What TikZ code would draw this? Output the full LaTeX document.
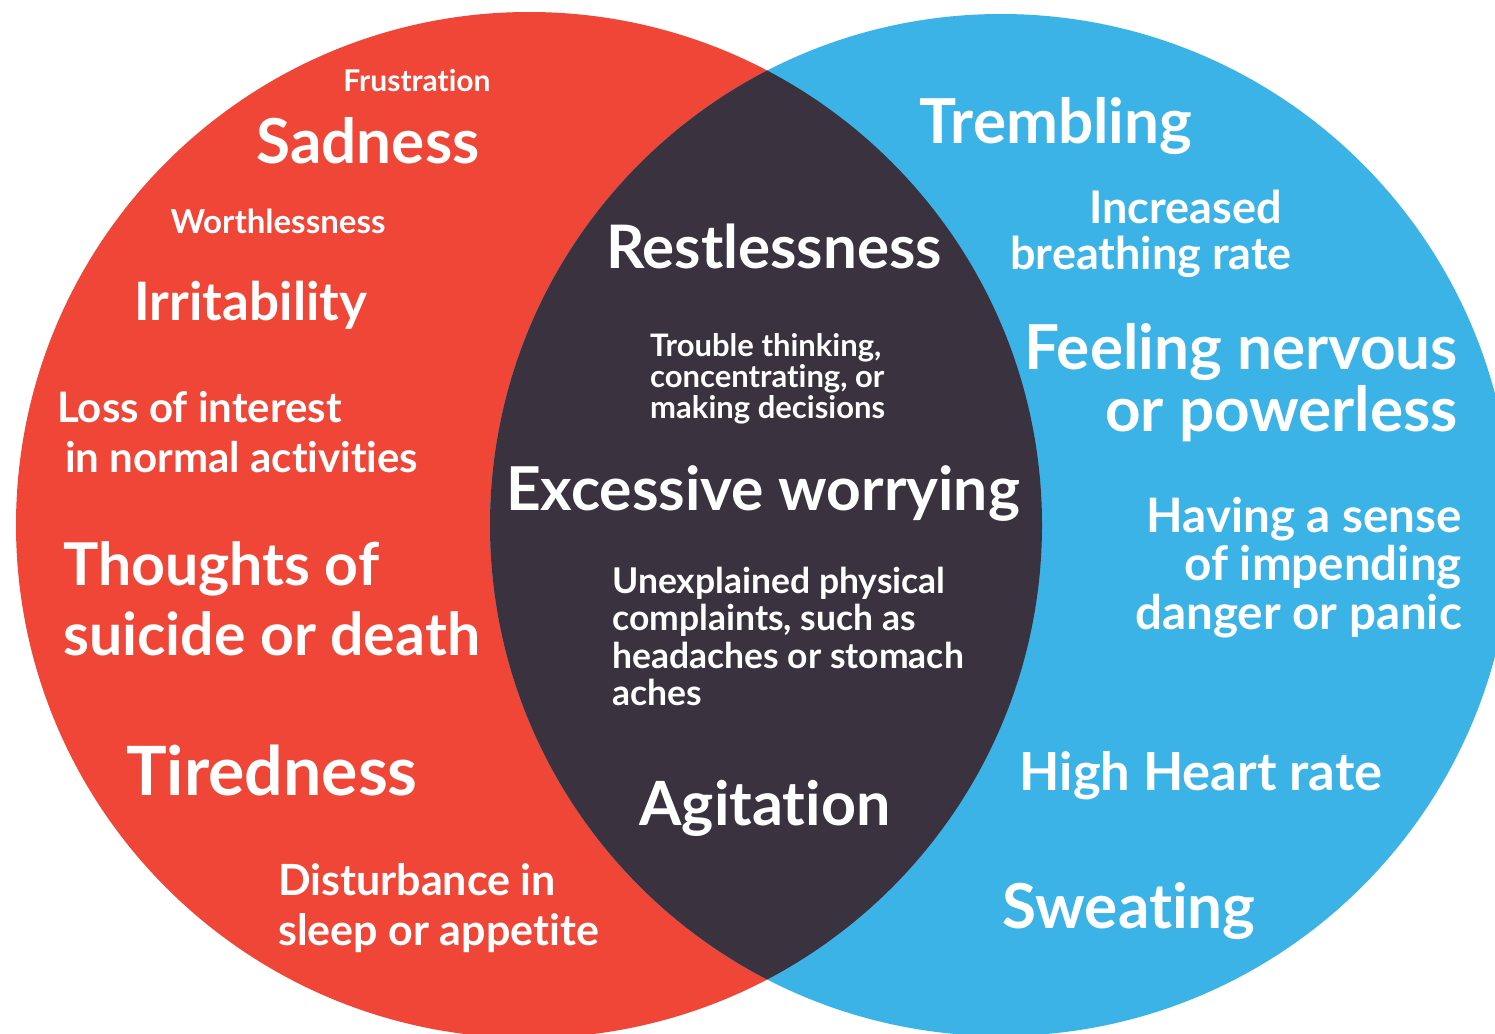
\documentclass[tikz,border=0pt]{standalone}
\usepackage{fontspec}
\setmainfont{Lato}[Ligatures={NoCommon,NoRequired},Contextuals=NoAlternate,RawFeature={-liga;-clig;-calt;-dlig}]
\definecolor{deprred}{HTML}{EF4638}
\definecolor{anxblue}{HTML}{3BB3E6}
\definecolor{bothdark}{HTML}{3A323E}

\begin{document}
\begin{tikzpicture}[x=1pt,y=-1pt,
    txt/.style={text=white,inner sep=0pt},
    fs/.style 2 args={font=\bfseries\fontsize{#1}{#2}\selectfont}]
  \useasboundingbox (0,0) rectangle (1495,1033);
  \clip (0,0) rectangle (1495,1033);
  \coordinate (redc) at (529,525);
  \coordinate (bluec) at (1001,525);
  \fill[deprred] (redc) circle[radius=513pt];
  \fill[anxblue] (bluec) circle[radius=511pt];
  \begin{scope}
    \clip (redc) circle[radius=513pt];
    \fill[bothdark] (bluec) circle[radius=511pt];
  \end{scope}
  % depression
  \node[txt,fs={30}{36},anchor=base] (frus) at (417,91) {Frustration};
  \node[txt,fs={62}{70},anchor=base] (sad) at (368,163) {Sadness};
  \node[txt,fs={33}{36},anchor=base] (worth) at (278,233) {Worthlessness};
  \node[txt,fs={53}{60},anchor=base] (irr) at (251,320) {Irritability};
  \node[txt,fs={42}{50},anchor=north west,align=left] (loss) at (57,391)
    {Loss of interest\\\hspace*{8pt}in normal activities};
  \node[txt,fs={59}{70},anchor=north west,align=left] (suic) at (63,541)
    {Thoughts of\\suicide or death};
  \node[txt,fs={68}{70},anchor=base] (tired) at (272,795) {Tiredness};
  \node[txt,fs={43}{50},anchor=north west,align=left] (sleep) at (278,863)
    {Disturbance in\\sleep or appetite};
  % both
  \node[txt,fs={60}{70},anchor=base] (restl) at (774,268) {Restlessness};
  \node[txt,fs={31}{31},anchor=north west,align=left] (think) at (650,333)
    {Trouble thinking,\\concentrating, or\\making decisions};
  \node[txt,fs={60.5}{70},anchor=base] (worry) at (763,510) {Excessive worrying};
  \node[txt,fs={35.5}{37.3},anchor=north west,align=left] (compl) at (612,567)
    {Unexplained physical\\complaints, such as\\headaches or stomach\\aches};
  \node[txt,fs={61}{70},anchor=base] (agit) at (765,825) {Agitation};
  % anxiety
  \node[txt,fs={62}{70},anchor=base] (tremb) at (1056,143) {Trembling};
  \node[txt,fs={45}{46},anchor=north east,align=right] (breath) at (1292,190)
    {Increased\hspace*{10pt}\\breathing rate};
  \node[txt,fs={62}{62},anchor=north east,align=right] (nerv) at (1458,323)
    {Feeling nervous\\or powerless};
  \node[txt,fs={47.5}{48.5},anchor=north east,align=right] (panic) at (1462,497)
    {Having a sense\\of impending\hspace*{7pt}\\danger or panic};
  \node[txt,fs={52.5}{60},anchor=base] (heart) at (1201,790) {High Heart rate};
  \node[txt,fs={62}{70},anchor=base] (sweat) at (1129,928) {Sweating};
\end{tikzpicture}
\end{document}
